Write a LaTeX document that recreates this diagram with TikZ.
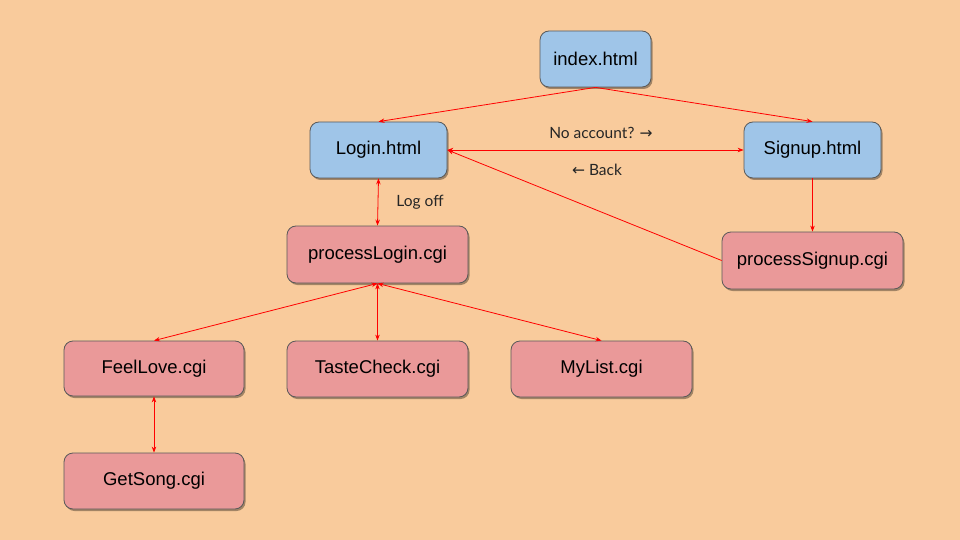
\documentclass[tikz,border=0pt]{standalone}
\usepackage{fontspec}
\setmainfont{Liberation Sans}
\newfontfamily\lblfont{Lato}
\newfontfamily\arrfont{DejaVu Sans}
\usetikzlibrary{shadows,arrows.meta}
\definecolor{bg}{HTML}{F9CB9C}
\definecolor{bluebox}{HTML}{9FC5E8}
\definecolor{redbox}{HTML}{EA9999}
\definecolor{edge}{HTML}{595959}
\tikzset{
  box/.style={draw=edge, line width=0.8pt, rounded corners=9pt, minimum height=56pt,
    font=\fontsize{18.5}{22}\selectfont, text=black,
    drop shadow={shadow xshift=1.5pt, shadow yshift=-2pt, fill=black, opacity=0.35}},
  bbox/.style={box, fill=bluebox},
  rbox/.style={box, fill=redbox},
  conn/.style={draw=red, line width=0.8pt, -{Stealth[length=6pt,width=4.5pt]}},
  conn2/.style={draw=red, line width=0.8pt, {Stealth[length=6pt,width=4.5pt]}-{Stealth[length=6pt,width=4.5pt]}},
  lbl/.style={font=\lblfont\fontsize{15.5}{18}\selectfont, text=black!85}
}
\begin{document}
\begin{tikzpicture}[x=1pt,y=-1pt]
\fill[bg] (0,0) rectangle (960,540);
\useasboundingbox (0,0) rectangle (960,540);
\node[bbox, minimum width=111pt] (index) at (595.5,59) {index.html};
\node[bbox, minimum width=137pt] (login) at (378.5,150) {Login.html};
\node[bbox, minimum width=137pt] (signup) at (812.5,150) {Signup.html};
\node[rbox, minimum width=181pt, minimum height=57pt] (plogin) at (377.5,254.5) {processLogin.cgi};
\node[rbox, minimum width=181pt, minimum height=57pt] (psignup) at (812.5,260.5) {processSignup.cgi};
\node[rbox, minimum width=180pt, minimum height=55pt] (feel) at (154,368.5) {FeelLove.cgi};
\node[rbox, minimum width=181pt] (taste) at (377.5,369) {TasteCheck.cgi};
\node[rbox, minimum width=181pt] (mylist) at (601.5,369) {MyList.cgi};
\node[rbox, minimum width=180pt] (getsong) at (154,481) {GetSong.cgi};

\draw[conn] (index.south) -- (login.north);
\draw[conn] (index.south) -- (signup.north);
\draw[conn2] (login.east) -- (signup.west);
\draw[conn] (psignup.west) -- (login.east);
\draw[conn] (signup.south) -- (psignup.north);
\draw[conn2] (login.south) -- (plogin.north);
\draw[conn2] (plogin.south) -- (feel.north);
\draw[conn2] (plogin.south) -- (taste.north);
\draw[conn2] (plogin.south) -- (mylist.north);
\draw[conn2] (feel.south) -- (getsong.north);

\node[lbl] (noacc) at (601,133) {No account? {\arrfont →}};
\node[lbl] (back) at (597,170) {{\arrfont ←} Back};
\node[lbl] (logoff) at (420,202) {Log off};
\end{tikzpicture}
\end{document}
